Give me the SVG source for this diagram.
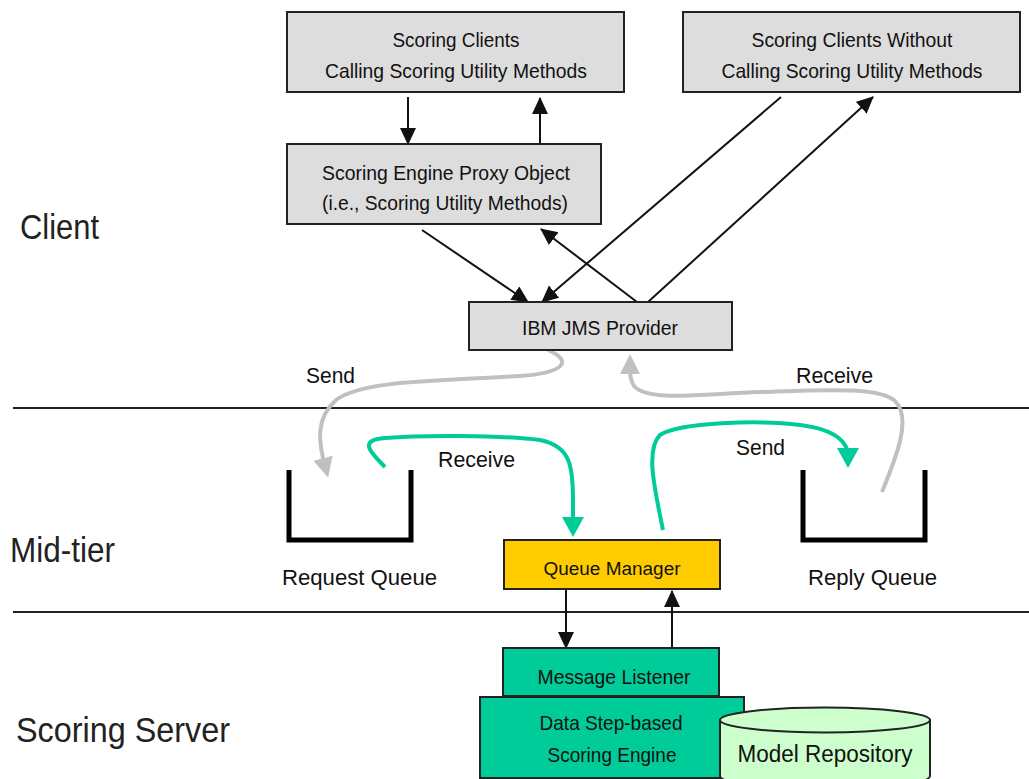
<svg xmlns="http://www.w3.org/2000/svg" width="1029" height="779" viewBox="0 0 1029 779">
<defs>
<style>
.box{fill:#dddddd;stroke:#222;stroke-width:2}
.bt{font-family:"Liberation Sans",Arial,sans-serif;font-size:21px;fill:#111;text-anchor:middle}
.lbl{font-family:"Liberation Sans",Arial,sans-serif;font-size:22px;fill:#111}
.big{font-family:"Liberation Sans",Arial,sans-serif;font-size:35px;fill:#222}
.blk{fill:none;stroke:#111;stroke-width:2}
.gry{fill:none;stroke:#c0c0c0;stroke-width:4}
.teal{fill:none;stroke:#00cc99;stroke-width:4}
.sep{stroke:#222;stroke-width:2}
.queue{fill:none;stroke:#000;stroke-width:5}
</style>
<marker id="ab" markerUnits="userSpaceOnUse" markerWidth="20" markerHeight="20" refX="16" refY="8" orient="auto"><path d="M0,0 L17,8 L0,16 z" fill="#111"/></marker>
<marker id="ag" markerUnits="userSpaceOnUse" markerWidth="24" markerHeight="24" refX="8" refY="10" orient="auto"><path d="M0,0 L20,10 L0,20 z" fill="#c0c0c0"/></marker>
<marker id="at" markerUnits="userSpaceOnUse" markerWidth="24" markerHeight="24" refX="8" refY="11" orient="auto"><path d="M0,0 L20,11 L0,22 z" fill="#00cc99"/></marker>
</defs>
<rect width="1029" height="779" fill="#fff"/>

<g id="tiers">
<line class="sep" x1="13" y1="408" x2="1029" y2="408"/>
<line class="sep" x1="13" y1="612" x2="1029" y2="612"/>
<text class="big" x="20" y="239" textLength="79" lengthAdjust="spacingAndGlyphs">Client</text>
<text class="big" x="10" y="562" textLength="105" lengthAdjust="spacingAndGlyphs">Mid-tier</text>
<text class="big" x="16" y="742" textLength="214" lengthAdjust="spacingAndGlyphs">Scoring Server</text>
</g>

<g id="connectors">
<line class="blk" x1="408" y1="97" x2="408" y2="144" marker-end="url(#ab)"/>
<line class="blk" x1="540" y1="144" x2="540" y2="98" marker-end="url(#ab)"/>
<line class="blk" x1="422" y1="230" x2="528" y2="302" marker-end="url(#ab)"/>
<line class="blk" x1="781" y1="97" x2="542" y2="302" marker-end="url(#ab)"/>
<line class="blk" x1="637" y1="302" x2="541" y2="229" marker-end="url(#ab)"/>
<line class="blk" x1="648" y1="302" x2="873" y2="97" marker-end="url(#ab)"/>
<line class="blk" x1="566" y1="590" x2="566" y2="648" marker-end="url(#ab)"/>
<line class="blk" x1="672" y1="648" x2="672" y2="591" marker-end="url(#ab)"/>
<path class="gry" d="M548,350 C575,362 562,373 520,376 C440,381 362,380 336,400 C316,418 318,440 325,466" marker-end="url(#ag)"/>
<path class="gry" d="M882,492 C895,460 912,420 896,402 C882,386 820,390 760,392 C700,394 648,402 634,386 C629,378 630,372 630,366" marker-end="url(#ag)"/>
<path class="teal" d="M385,467 C370,452 358,440 385,438 C420,435 500,435 540,440 C570,446 573,465 573,500 L573,525" marker-end="url(#at)"/>
<path class="teal" d="M663,530 C655,490 645,450 660,435 C680,422 760,420 800,425 C840,430 848,445 848,456" marker-end="url(#at)"/>
<text class="lbl" x="306" y="383" textLength="49" lengthAdjust="spacingAndGlyphs">Send</text>
<text class="lbl" x="796" y="383" textLength="77" lengthAdjust="spacingAndGlyphs">Receive</text>
<text class="lbl" x="438" y="467" textLength="77" lengthAdjust="spacingAndGlyphs">Receive</text>
<text class="lbl" x="736" y="455" textLength="49" lengthAdjust="spacingAndGlyphs">Send</text>
</g>

<g id="scoring-clients">
<rect class="box" x="287" y="12" width="337" height="80"/>
<text class="bt" x="456" y="47" textLength="127" lengthAdjust="spacingAndGlyphs">Scoring Clients</text>
<text class="bt" x="456" y="78" textLength="262" lengthAdjust="spacingAndGlyphs">Calling Scoring Utility Methods</text>
</g>

<g id="scoring-clients-without">
<rect class="box" x="683" y="12" width="337" height="80"/>
<text class="bt" x="852" y="47" textLength="201" lengthAdjust="spacingAndGlyphs">Scoring Clients Without</text>
<text class="bt" x="852" y="78" textLength="261" lengthAdjust="spacingAndGlyphs">Calling Scoring Utility Methods</text>
</g>

<g id="proxy">
<rect class="box" x="287" y="144" width="314" height="80"/>
<text class="bt" x="446" y="180" textLength="248" lengthAdjust="spacingAndGlyphs">Scoring Engine Proxy Object</text>
<text class="bt" x="445" y="210" textLength="246" lengthAdjust="spacingAndGlyphs">(i.e., Scoring Utility Methods)</text>
</g>

<g id="jms-provider">
<rect class="box" x="469" y="302" width="263" height="48"/>
<text class="bt" x="600" y="335" textLength="156" lengthAdjust="spacingAndGlyphs">IBM JMS Provider</text>
</g>

<g id="request-queue">
<polyline class="queue" points="289,470 289,540 411,540 411,470"/>
<text class="lbl" x="282" y="585" textLength="155" lengthAdjust="spacingAndGlyphs">Request Queue</text>
</g>

<g id="reply-queue">
<polyline class="queue" points="803,470 803,540 925,540 925,470"/>
<text class="lbl" x="808" y="585" textLength="129" lengthAdjust="spacingAndGlyphs">Reply Queue</text>
</g>

<g id="queue-manager">
<rect x="504" y="540" width="216" height="49" fill="#ffcc00" stroke="#222" stroke-width="2"/>
<text class="bt" x="612" y="575" style="font-size:18px" textLength="137" lengthAdjust="spacingAndGlyphs">Queue Manager</text>
</g>

<g id="message-listener">
<rect x="503" y="648" width="216" height="48" fill="#00cc99" stroke="#222" stroke-width="2"/>
<text class="bt" x="614" y="684" textLength="153" lengthAdjust="spacingAndGlyphs">Message Listener</text>
</g>

<g id="scoring-engine">
<rect x="480" y="697" width="264" height="81" fill="#00cc99" stroke="#222" stroke-width="2"/>
<text class="bt" x="611" y="730" textLength="143" lengthAdjust="spacingAndGlyphs">Data Step-based</text>
<text class="bt" x="612" y="762" textLength="129" lengthAdjust="spacingAndGlyphs">Scoring Engine</text>
</g>

<g id="model-repository">
<path d="M720,720 L720,776 A105,12.5 0 0 0 930,776 L930,720 Z" fill="#ccffcc" stroke="#222" stroke-width="2"/>
<ellipse cx="825" cy="720" rx="105" ry="12.5" fill="#ccffcc" stroke="#222" stroke-width="2"/>
<text class="bt" x="825" y="762" style="font-size:23px" textLength="175" lengthAdjust="spacingAndGlyphs">Model Repository</text>
</g>
</svg>
